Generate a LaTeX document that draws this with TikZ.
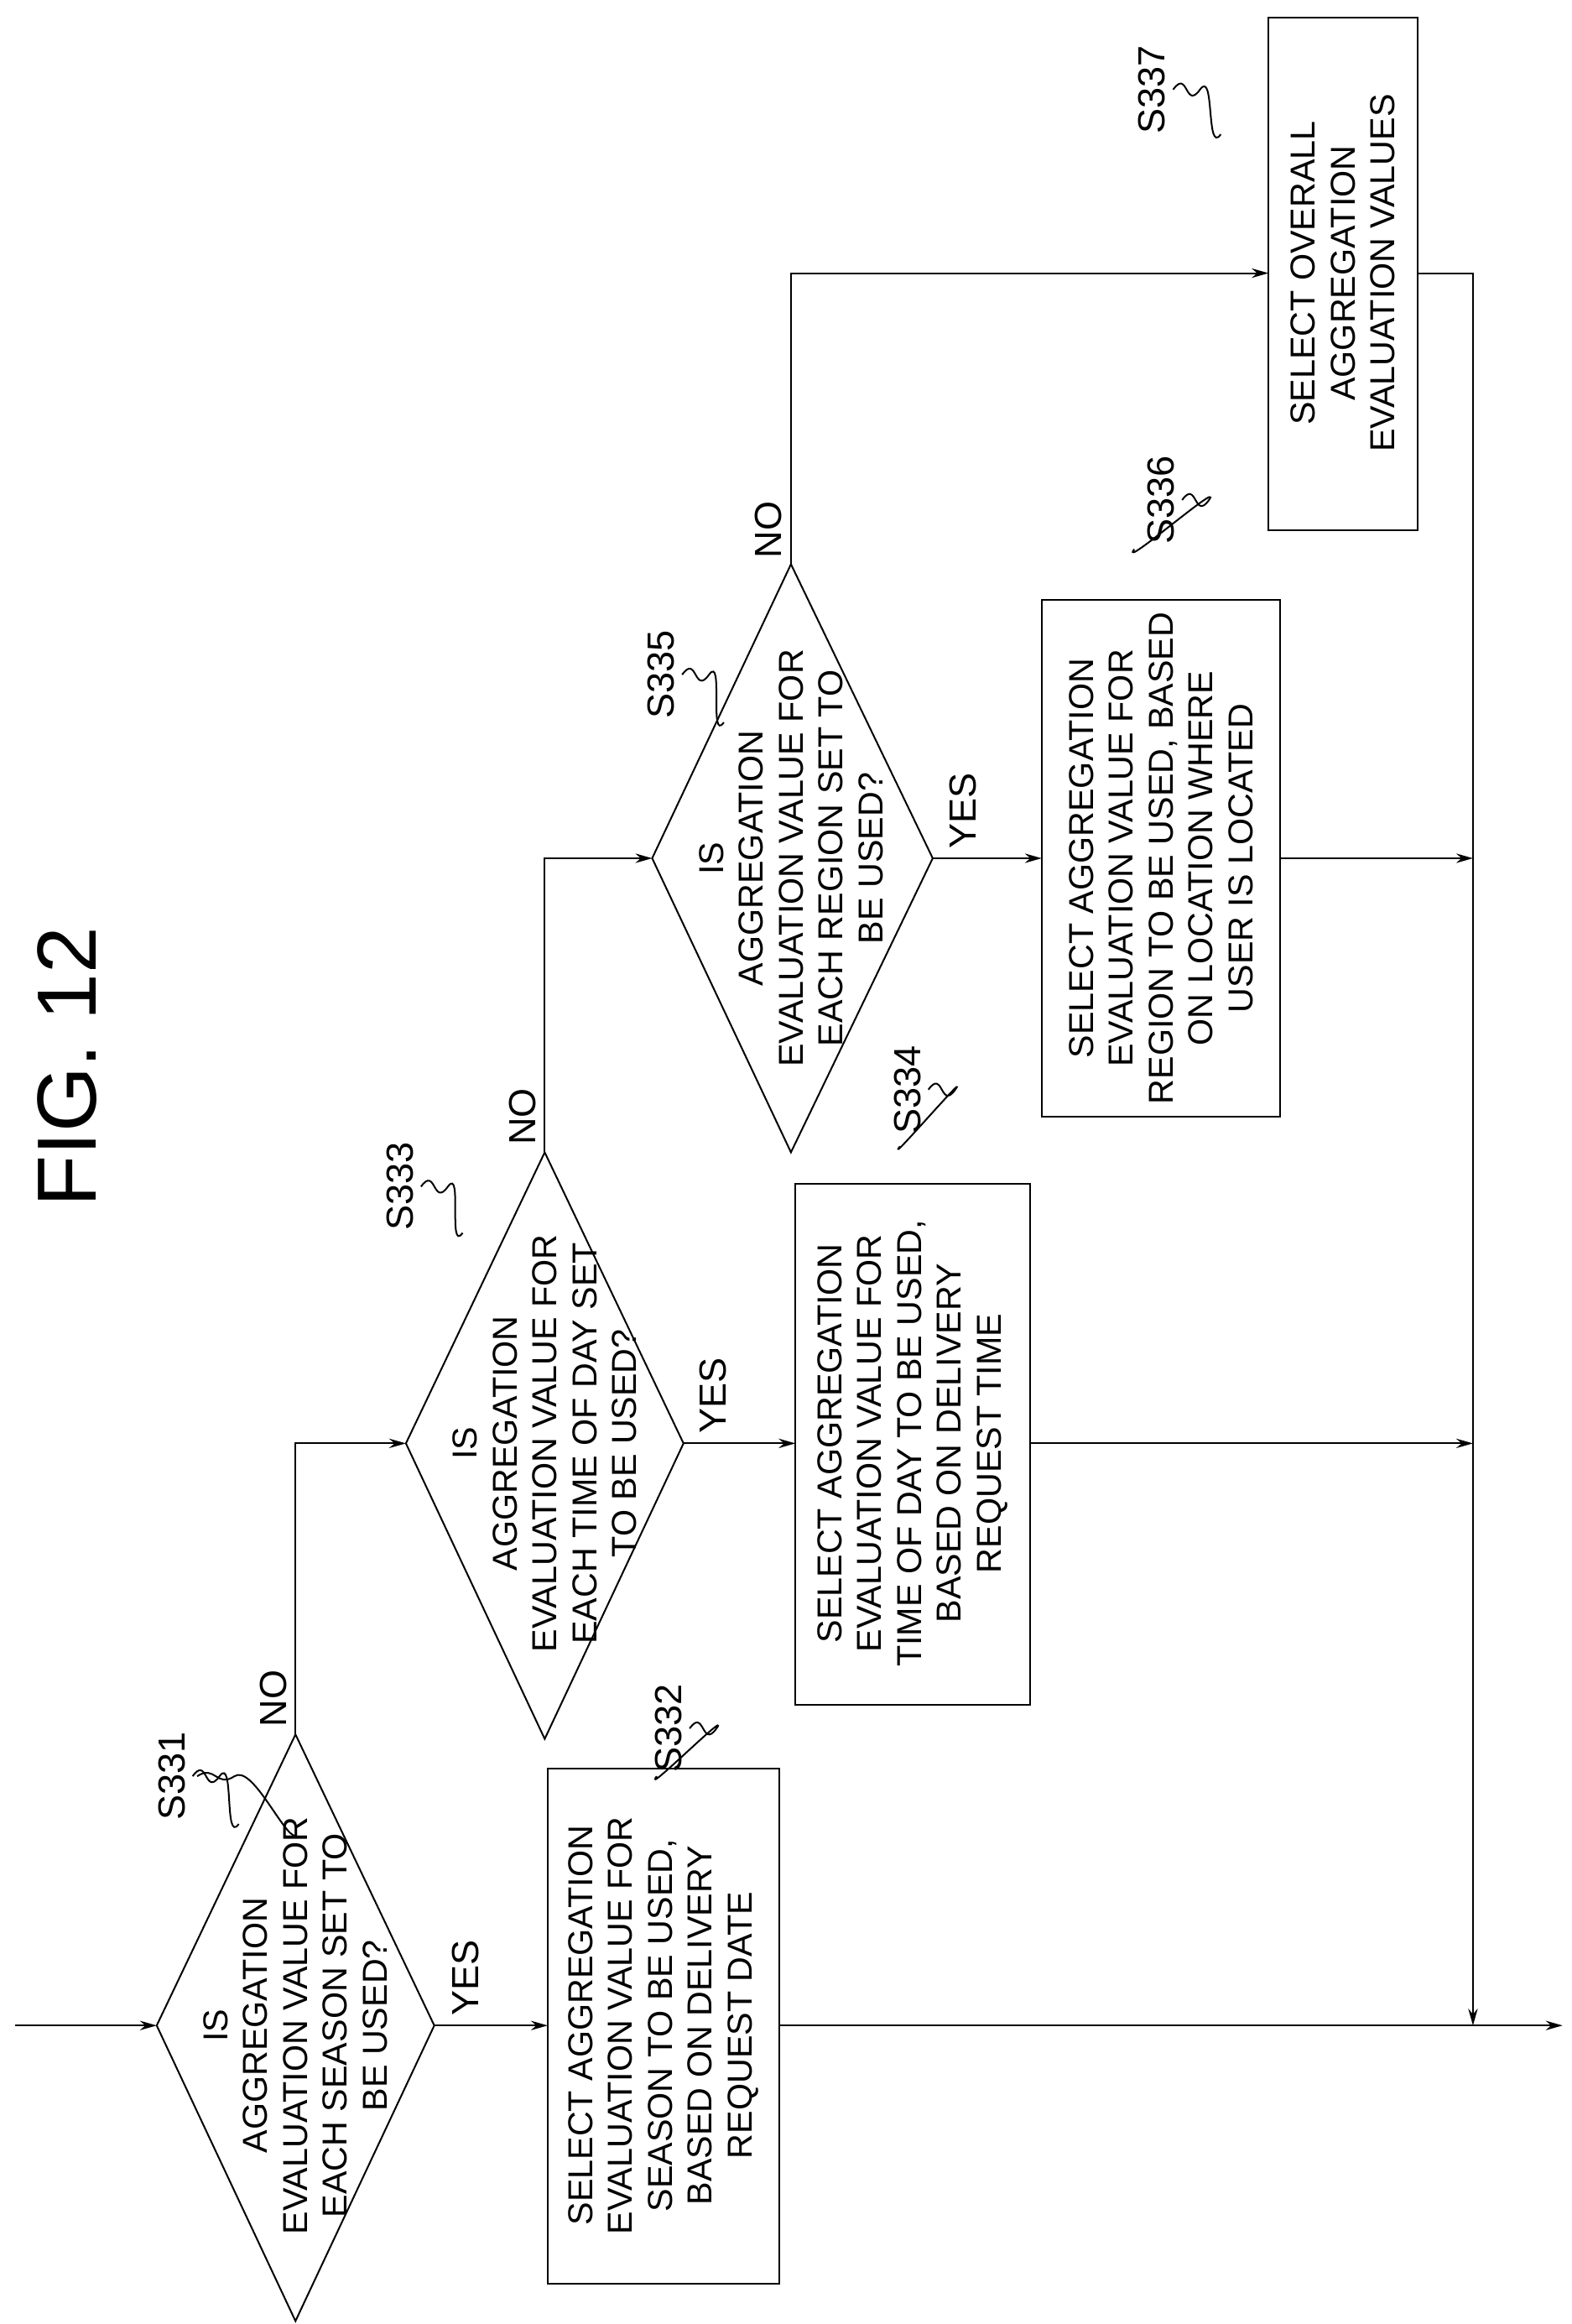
\documentclass[tikz,border=0pt]{standalone}
\usepackage{fontspec}
\setmainfont{Liberation Sans}
\usetikzlibrary{arrows.meta}
\begin{document}
\begin{tikzpicture}[x=0.5mm,y=-0.5mm,
  line/.style={line width=1.6pt},
  arr/.style={line, -{Stealth[length=16pt,width=9pt]}},
  txt/.style={rotate=90,align=center,font=\fontsize{33}{38}\selectfont,inner sep=0pt},
  lbl/.style={rotate=90,font=\fontsize{36}{40}\selectfont,inner sep=0pt},
  box/.style={line}]
\useasboundingbox (0,0) rectangle (1053,1557);
\node[rotate=90,font=\fontsize{80}{90}\selectfont] (fig) at (45,715) {FIG. 12};
% entry
\coordinate (in) at (10,1357);
% S331 diamond
\coordinate (d1l) at (105,1357); \coordinate (d1r) at (291,1357);
\coordinate (d1t) at (198,1162); \coordinate (d1b) at (198,1555);
\draw[line] (d1l)--(d1t)--(d1r)--(d1b)--cycle;
\node[txt] (t1) at (198,1357) {IS\\AGGREGATION\\EVALUATION VALUE FOR\\EACH SEASON SET TO\\BE USED?};
% S333 diamond
\coordinate (d2l) at (272,967); \coordinate (d2r) at (458,967);
\coordinate (d2t) at (365,772); \coordinate (d2b) at (365,1165);
\draw[line] (d2l)--(d2t)--(d2r)--(d2b)--cycle;
\node[txt] (t2) at (365,967) {IS\\AGGREGATION\\EVALUATION VALUE FOR\\EACH TIME OF DAY SET\\TO BE USED?};
% S335 diamond
\coordinate (d3l) at (437,575); \coordinate (d3r) at (625,575);
\coordinate (d3t) at (530,378); \coordinate (d3b) at (530,772);
\draw[line] (d3l)--(d3t)--(d3r)--(d3b)--cycle;
\node[txt] (t3) at (530,575) {IS\\AGGREGATION\\EVALUATION VALUE FOR\\EACH REGION SET TO\\BE USED?};
% boxes
\draw[box] (367,1185) rectangle (522,1530);
\node[txt] (b1) at (444.5,1357) {SELECT AGGREGATION\\EVALUATION VALUE FOR\\SEASON TO BE USED,\\BASED ON DELIVERY\\REQUEST DATE};
\coordinate (b1l) at (367,1357); \coordinate (b1r) at (522,1357);
\draw[box] (533,793) rectangle (690,1142);
\node[txt] (b2) at (611.5,967) {SELECT AGGREGATION\\EVALUATION VALUE FOR\\TIME OF DAY TO BE USED,\\BASED ON DELIVERY\\REQUEST TIME};
\coordinate (b2l) at (533,967); \coordinate (b2r) at (690,967);
\draw[box] (698,402) rectangle (858,748);
\node[txt] (b3) at (778,575) {SELECT AGGREGATION\\EVALUATION VALUE FOR\\REGION TO BE USED, BASED\\ON LOCATION WHERE\\USER IS LOCATED};
\coordinate (b3l) at (698,575); \coordinate (b3r) at (858,575);
\draw[box] (850,12) rectangle (950,355);
\node[txt] (b4) at (900,183) {SELECT OVERALL\\AGGREGATION\\EVALUATION VALUES};
\coordinate (b4l) at (850,183); \coordinate (b4r) at (950,183);
% merge line
\coordinate (m0) at (987,183); \coordinate (m1) at (987,575);
\coordinate (m2) at (987,967); \coordinate (m3) at (987,1357);
\coordinate (out) at (1047,1357);
% connectors
\draw[arr] (in)--(d1l);
\draw[arr] (d1r)--(b1l);
\draw[arr] (d1t)|-(d2l);
\draw[arr] (d2r)--(b2l);
\draw[arr] (d2t)|-(d3l);
\draw[arr] (d3r)--(b3l);
\draw[arr] (d3t)|-(b4l);
\draw[arr] (b4r)--(m0)--(m3);
\draw[arr] (b3r)--(m1);
\draw[arr] (b2r)--(m2);
\draw[arr] (b1r)--(out);
% yes/no
\node[lbl] (y1) at (312,1325) {YES};
\node[lbl] (y2) at (478,935) {YES};
\node[lbl] (y3) at (645,543) {YES};
\node[lbl] (n1) at (183,1138) {NO};
\node[lbl] (n2) at (350,748) {NO};
\node[lbl] (n3) at (515,355) {NO};
% step labels
\node[lbl] (s1) at (115,1190) {S331};
\node[lbl] (s2) at (448,1158) {S332};
\node[lbl] (s3) at (268,795) {S333};
\node[lbl] (s4) at (608,730) {S334};
\node[lbl] (s5) at (443,452) {S335};
\node[lbl] (s6) at (778,335) {S336};
\node[lbl] (s7) at (772,60) {S337};
\draw[line] (s1.south)++(8,0) .. controls +(12,-8) and +(-12,8) .. ++(25,0) .. controls +(12,-8) and +(-8,0) .. (d1t.center |- 0,1230);
\foreach \s/\tx/\ty in {s1/160/1222, s2/440/1190, s3/310/826, s4/603/768, s5/485/484, s6/760/368, s7/818/90}{
  \draw[line] (\s.south) ++(5,0) .. controls +(10,-14) and +(-10,14) .. ++(18,0) .. controls +(10,-14) and +(-10,14) .. (\tx,\ty);
}
\end{tikzpicture}
\end{document}
